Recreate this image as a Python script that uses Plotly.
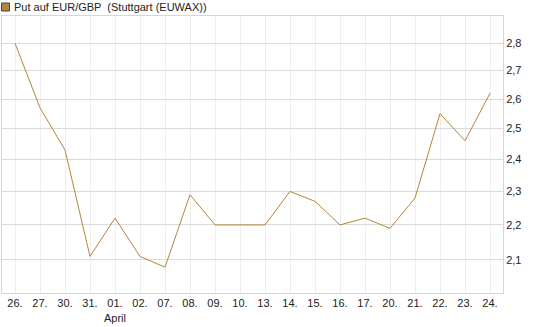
import plotly.graph_objects as go
import math

dates = ["26.", "27.", "30.", "31.", "01.", "02.", "07.", "08.", "09.", "10.",
         "13.", "14.", "15.", "16.", "17.", "20.", "21.", "22.", "23.", "24."]
tick_text = ["26.", "27.", "30.", "31.", "01.<br>April", "02.", "07.", "08.", "09.", "10.",
             "13.", "14.", "15.", "16.", "17.", "20.", "21.", "22.", "23.", "24."]
values = [2.80, 2.57, 2.43, 2.11, 2.22, 2.11, 2.08, 2.29, 2.20, 2.20,
          2.20, 2.30, 2.27, 2.20, 2.22, 2.19, 2.28, 2.55, 2.46, 2.62]
y_ticks = [2.1, 2.2, 2.3, 2.4, 2.5, 2.6, 2.7, 2.8]
y_tick_text = ["2,1", "2,2", "2,3", "2,4", "2,5", "2,6", "2,7", "2,8"]
series_name = "Put auf EUR/GBP  (Stuttgart (EUWAX))"

line_color = "#B5853A"
font = dict(family="Liberation Sans, Arial, sans-serif", size=11, color="#222222")

fig = go.Figure()
fig.add_trace(go.Scatter(x=dates, y=values, mode="lines",
                         line=dict(color=line_color, width=1),
                         showlegend=False, hoverinfo="skip"))

fig.update_layout(
    width=545, height=327,
    margin=dict(l=2, r=42, t=16, b=34),
    paper_bgcolor="white", plot_bgcolor="white",
    font=font,
    xaxis=dict(type="category", tickmode="array", tickvals=dates, ticktext=tick_text,
               range=[-0.52, 19.52], showgrid=True, gridcolor="#eeeeee", gridwidth=1,
               ticks="", showline=True, linecolor="#d6d6d6", mirror=True,
               zeroline=False, tickfont=font, fixedrange=True),
    yaxis=dict(type="log", side="right", range=[math.log10(2.01), math.log10(2.903)],
               tickmode="array", tickvals=y_ticks, ticktext=y_tick_text,
               showgrid=True, gridcolor="#dadada", gridwidth=1, ticks="",
               showline=True, linecolor="#d6d6d6", mirror=True, zeroline=False,
               tickfont=font, fixedrange=True),
    shapes=[dict(type="rect", xref="paper", yref="paper", xsizemode="pixel", ysizemode="pixel",
                 xanchor=0, yanchor=1, x0=-0.5, x1=7.5, y0=13, y1=5,
                 fillcolor=line_color, line=dict(color="#444444", width=1))],
    annotations=[dict(text=series_name, xref="paper", yref="paper", x=0, y=1,
                      xshift=10, yshift=9, xanchor="left", yanchor="middle",
                      showarrow=False, font=font)],
)

fig.write_html("out.html")
